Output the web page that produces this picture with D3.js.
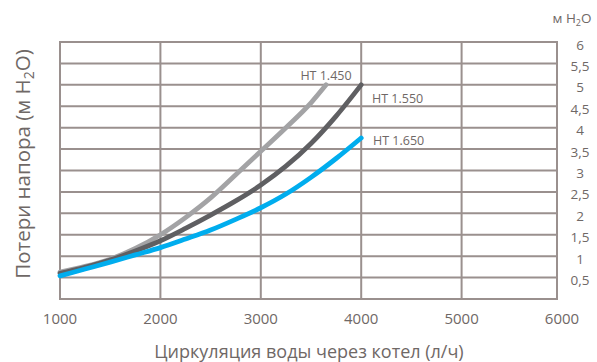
<!DOCTYPE html>
<html>
<head>
<meta charset="utf-8">
<script src="https://cdn.jsdelivr.net/npm/d3@7"></script>
<style>
  html, body { margin: 0; padding: 0; background: #fff; }
  svg { display: block; font-family: "Open Sans", sans-serif; }
</style>
</head>
<body>
<svg id="chart" width="597" height="362"></svg>
<script>
// Flow through the boiler (l/h) and pressure loss (m H2O) per model
const xTicks = [1000, 2000, 3000, 4000, 5000, 6000];
const yTicks = [0.5, 1, 1.5, 2, 2.5, 3, 3.5, 4, 4.5, 5, 5.5, 6];
const yTickLabels = ["0,5", "1", "1,5", "2", "2,5", "3", "3,5", "4", "4,5", "5", "5,5", "6"];

const seriesNames = ["HT 1.450", "HT 1.550", "HT 1.650"];
const flowHT1450 = [1000, 1250, 1500, 1750, 2000, 2250, 2500, 2750, 3000, 3250, 3500, 3650];
const lossHT1450 = [0.63, 0.76, 0.93, 1.18, 1.50, 1.90, 2.36, 2.90, 3.45, 4.00, 4.58, 5.00];
const flowHT1550 = [1000, 1250, 1500, 1750, 2000, 2250, 2500, 2750, 3000, 3250, 3500, 3750, 4000];
const lossHT1550 = [0.60, 0.74, 0.91, 1.12, 1.36, 1.65, 1.96, 2.29, 2.66, 3.10, 3.63, 4.27, 5.00];
const flowHT1650 = [1000, 1250, 1500, 1750, 2000, 2250, 2500, 2750, 3000, 3250, 3500, 3750, 4000];
const lossHT1650 = [0.54, 0.70, 0.86, 1.03, 1.20, 1.40, 1.61, 1.86, 2.13, 2.45, 2.84, 3.28, 3.76];

const colors = ["#a3a3a5", "#5f5f62", "#00adee"];
const gridColor = "#9a908e";
const textColor = "#6f6866";

const svg = d3.select("#chart");
const plotLeft = 60, plotRight = 557, plotTop = 42, plotBottom = 299;

const x = d3.scaleLinear().domain([1000, 6000]).range([plotLeft, 562]);
const y = d3.scaleLinear().domain([0, 6]).range([plotBottom, plotTop]);

// grid
const g = svg.append("g");
g.selectAll("line.h").data(yTicks).join("line")
  .attr("x1", plotLeft).attr("x2", plotRight)
  .attr("y1", d => y(d)).attr("y2", d => y(d))
  .attr("stroke", gridColor).attr("stroke-width", 2);
g.selectAll("line.v").data(xTicks.slice(1, 5)).join("line")
  .attr("x1", d => x(d)).attr("x2", d => x(d))
  .attr("y1", plotTop).attr("y2", plotBottom)
  .attr("stroke", gridColor).attr("stroke-width", 2);
// frame
g.append("path")
  .attr("d", `M${plotLeft},${plotBottom}V${plotTop}H${plotRight}V${plotBottom}`)
  .attr("fill", "none").attr("stroke", gridColor).attr("stroke-width", 2);
g.append("line").attr("x1", plotLeft - 1).attr("x2", plotRight + 1)
  .attr("y1", plotBottom).attr("y2", plotBottom)
  .attr("stroke", gridColor).attr("stroke-width", 2);

// x tick labels
svg.append("g").selectAll("text").data(xTicks).join("text")
  .attr("x", d => x(d)).attr("y", 324)
  .attr("text-anchor", "middle")
  .attr("font-size", 15).attr("fill", textColor)
  .text(d => d);

// right y tick labels
svg.append("g").selectAll("text").data(yTicks).join("text")
  .attr("x", 580).attr("y", d => y(d) + 7.5)
  .attr("text-anchor", "middle")
  .attr("font-size", 13.5).attr("fill", textColor)
  .text((d, i) => yTickLabels[i]);

// unit above right axis
const unit = svg.append("text").attr("x", 572).attr("y", 23)
  .attr("text-anchor", "middle").attr("font-size", 13.5).attr("fill", textColor);
unit.append("tspan").text("м H");
unit.append("tspan").attr("font-size", 9).attr("dy", 3).text("2");
unit.append("tspan").attr("dy", -3).text("O");

// axis titles
svg.append("text").attr("x", 309).attr("y", 358)
  .attr("text-anchor", "middle").attr("font-size", 18).attr("fill", textColor)
  .text("Циркуляция воды через котел (л/ч)");

const yt = svg.append("text")
  .attr("transform", "translate(30,164) rotate(-90)")
  .attr("text-anchor", "middle").attr("font-size", 20.5).attr("fill", textColor);
yt.append("tspan").text("Потери напора (м H");
yt.append("tspan").attr("font-size", 14).attr("dy", 4).text("2");
yt.append("tspan").attr("dy", -4).text("O)");

// curves
const line = d3.line().x(d => x(d[0])).y(d => y(d[1])).curve(d3.curveMonotoneX);
const series = [
  [flowHT1450, lossHT1450],
  [flowHT1550, lossHT1550],
  [flowHT1650, lossHT1650]
];
series.forEach(([fx, fy], i) => {
  svg.append("path")
    .datum(fx.map((v, j) => [v, fy[j]]))
    .attr("d", line)
    .attr("fill", "none")
    .attr("stroke", colors[i])
    .attr("stroke-width", 4.8)
    .attr("stroke-linecap", "round");
});

// series labels
const labelPos = [
  { x: 326, y: 80, anchor: "middle" },
  { x: 372, y: 103, anchor: "start" },
  { x: 373, y: 145, anchor: "start" }
];
svg.append("g").selectAll("text").data(seriesNames).join("text")
  .attr("x", (d, i) => labelPos[i].x).attr("y", (d, i) => labelPos[i].y)
  .attr("text-anchor", (d, i) => labelPos[i].anchor)
  .attr("font-size", 12.5).attr("fill", textColor)
  .text(d => d);
</script>
</body>
</html>
